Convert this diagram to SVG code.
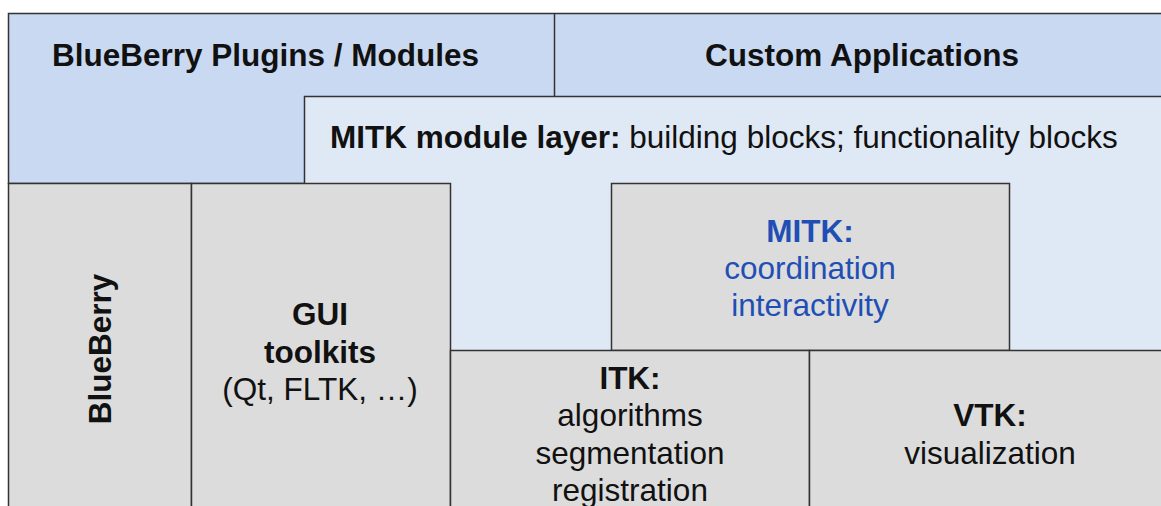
<svg xmlns="http://www.w3.org/2000/svg" width="1161" height="506" viewBox="0 0 1161 506">
<style>
.blue{fill:#c9d9f1;stroke:#333;stroke-width:1.5}
.lblue{fill:#dfe8f5;stroke:#333;stroke-width:1.5}
.gray{fill:#dcdcdc;stroke:#333;stroke-width:1.5}
.ln{stroke:#333;stroke-width:1.5;fill:none}
text{font-family:"Liberation Sans",Arial,sans-serif;font-size:31.5px;fill:#111}
.b{font-weight:bold}
.c{text-anchor:middle}
.m{fill:#1f4fb5}
</style>
<rect width="1161" height="506" fill="#fff"/>
<g id="top-layer">
<rect class="blue" x="8.5" y="13.5" width="1160" height="170"/>
<line class="ln" x1="554.5" y1="13.5" x2="554.5" y2="96.5"/>
<text class="b" x="52" y="66">BlueBerry Plugins / Modules</text>
<text class="b c" x="862" y="66">Custom Applications</text>
</g>
<g id="module-layer">
<rect class="lblue" x="304.5" y="96.5" width="870" height="260"/>
<text x="330" y="148"><tspan class="b">MITK module layer:</tspan> building blocks; functionality blocks</text>
</g>
<g id="blueberry">
<rect class="gray" x="8.5" y="183.5" width="183" height="330"/>
<text class="b c" transform="translate(111 349) rotate(-90)">BlueBerry</text>
</g>
<g id="gui">
<rect class="gray" x="191.5" y="183.5" width="259" height="330"/>
<text class="b c" x="320" y="325">GUI</text>
<text class="b c" x="320" y="363">toolkits</text>
<text class="c" x="320" y="400">(Qt, FLTK, …)</text>
</g>
<g id="mitk">
<rect class="gray" x="611.5" y="183.5" width="398" height="167"/>
<text class="b c m" x="810" y="242">MITK:</text>
<text class="c m" x="810" y="279">coordination</text>
<text class="c m" x="810" y="316">interactivity</text>
</g>
<g id="itk">
<rect class="gray" x="450.5" y="350.5" width="359" height="170"/>
<text class="b c" x="630" y="389">ITK:</text>
<text class="c" x="630" y="426">algorithms</text>
<text class="c" x="630" y="464">segmentation</text>
<text class="c" x="630" y="501">registration</text>
</g>
<g id="vtk">
<rect class="gray" x="809.5" y="350.5" width="360" height="170"/>
<text class="b c" x="990" y="426">VTK:</text>
<text class="c" x="990" y="464">visualization</text>
</g>
<g id="connectors"></g>
</svg>
